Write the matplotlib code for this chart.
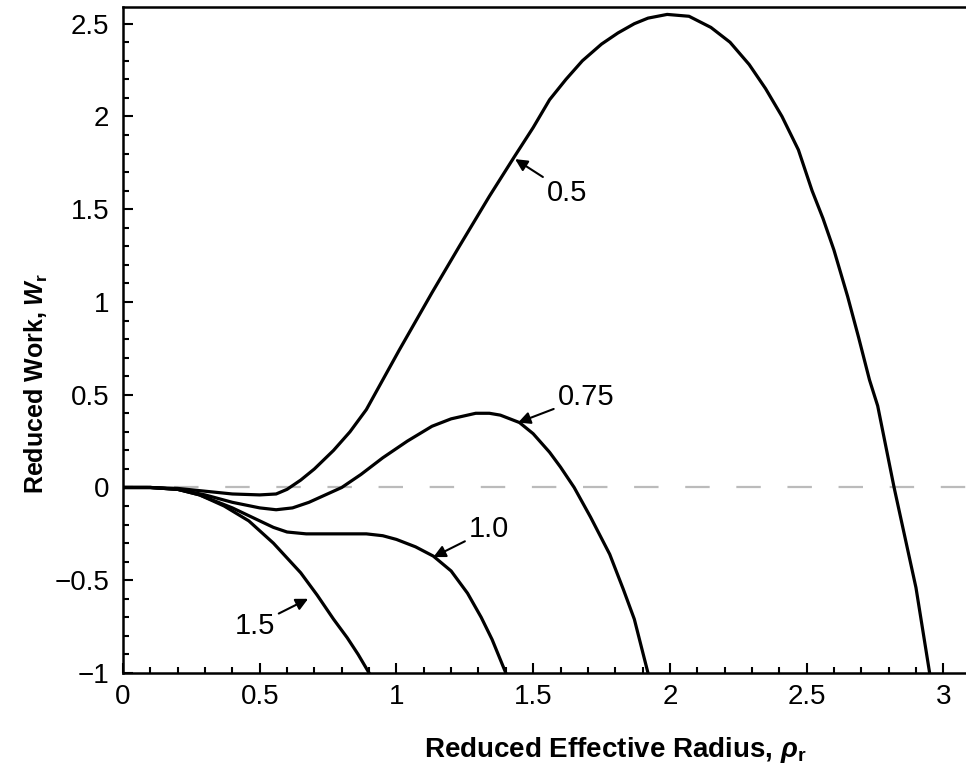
import matplotlib
matplotlib.use("Agg")
import matplotlib.pyplot as plt
from matplotlib.ticker import MultipleLocator

plt.rcParams['font.family'] = ['Liberation Sans', 'DejaVu Sans']
plt.rcParams['mathtext.fontset'] = 'custom'
plt.rcParams['mathtext.rm'] = 'Liberation Sans:bold'
plt.rcParams['mathtext.bf'] = 'Liberation Sans:bold'
plt.rcParams['mathtext.it'] = 'Liberation Sans:italic:bold'

# curves, one per parameter value
x_05 = [0, 0.1, 0.2, 0.3, 0.4, 0.5, 0.56, 0.6, 0.65, 0.7, 0.77, 0.83, 0.89, 0.95, 1.01,
        1.13, 1.23, 1.34, 1.43, 1.50, 1.56, 1.62, 1.68, 1.75, 1.81, 1.87, 1.92, 1.99,
        2.07, 2.15, 2.22, 2.29, 2.35, 2.41, 2.47, 2.52, 2.56, 2.60, 2.65, 2.69, 2.73,
        2.76, 2.82, 2.86, 2.90, 2.95]
y_05 = [0, 0, -0.005, -0.02, -0.035, -0.04, -0.035, -0.01, 0.04, 0.1, 0.2, 0.3, 0.42,
        0.58, 0.74, 1.05, 1.30, 1.57, 1.78, 1.94, 2.09, 2.20, 2.30, 2.39, 2.45, 2.50,
        2.53, 2.55, 2.54, 2.48, 2.40, 2.28, 2.15, 2.0, 1.82, 1.60, 1.45, 1.28, 1.03,
        0.81, 0.58, 0.44, 0.0, -0.27, -0.54, -1.0]

x_075 = [0, 0.1, 0.2, 0.3, 0.4, 0.5, 0.56, 0.62, 0.68, 0.74, 0.8, 0.87, 0.95, 1.04,
         1.13, 1.2, 1.29, 1.34, 1.38, 1.45, 1.5, 1.56, 1.6, 1.65, 1.71, 1.78, 1.83,
         1.87, 1.92]
y_075 = [0, 0, -0.01, -0.04, -0.08, -0.11, -0.12, -0.11, -0.08, -0.04, 0, 0.07, 0.16,
         0.25, 0.33, 0.37, 0.40, 0.40, 0.39, 0.35, 0.29, 0.19, 0.11, 0.0, -0.16, -0.36,
         -0.55, -0.71, -1.0]

x_10 = [0, 0.1, 0.2, 0.28, 0.4, 0.5, 0.55, 0.6, 0.67, 0.8, 0.89, 0.95, 1.0, 1.07,
        1.135, 1.2, 1.26, 1.31, 1.35, 1.40]
y_10 = [0, 0, -0.01, -0.04, -0.11, -0.18, -0.215, -0.24, -0.25, -0.25, -0.25, -0.26,
        -0.28, -0.32, -0.37, -0.45, -0.57, -0.70, -0.82, -1.0]

x_15 = [0, 0.1, 0.2, 0.28, 0.37, 0.46, 0.55, 0.65, 0.71, 0.77, 0.82, 0.86, 0.90]
y_15 = [0, 0, -0.01, -0.04, -0.10, -0.18, -0.30, -0.46, -0.58, -0.71, -0.81, -0.90, -1.0]

xticks = [0, 0.5, 1, 1.5, 2, 2.5, 3]
xtick_labels = ['0', '0.5', '1', '1.5', '2', '2.5', '3']
yticks = [-1, -0.5, 0, 0.5, 1, 1.5, 2, 2.5]
ytick_labels = ['\u22121', '\u22120.5', '0', '0.5', '1', '1.5', '2', '2.5']

# label text, arrow head (on curve), text position
labels = ['0.5', '0.75', '1.0', '1.5']
heads = [(1.434, 1.77), (1.445, 0.35), (1.135, -0.375), (0.677, -0.60)]
tails = [(1.55, 1.59), (1.59, 0.49), (1.265, -0.225), (0.555, -0.745)]

fig = plt.figure(figsize=(9.66, 7.73), dpi=100)
# the right edge of the original axes is cut off by the image border
ax = fig.add_axes([123/966, 100/773, (998-123)/966, 666/773])

ax.plot([0, 3.2], [0, 0], color='#bbbbbb', lw=1.6, linestyle=(0, (11, 12)), zorder=1)
for xs, ys in [(x_05, y_05), (x_075, y_075), (x_10, y_10), (x_15, y_15)]:
    ax.plot(xs, ys, color='black', lw=2.3, zorder=3, solid_joinstyle='round')

for lab, h, t in zip(labels, heads, tails):
    ha = 'right' if lab == '1.5' else 'left'
    ax.annotate(lab, xy=h, xytext=t, ha=ha, va='center', fontsize=21,
                arrowprops=dict(arrowstyle='-|>', color='black', lw=1.5,
                                mutation_scale=18, shrinkA=1, shrinkB=0))

ax.set_xlim(0, 3.2)
ax.set_ylim(-1, 2.59)
ax.set_xticks(xticks)
ax.set_xticklabels(xtick_labels)
ax.set_yticks(yticks)
ax.set_yticklabels(ytick_labels)
ax.xaxis.set_minor_locator(MultipleLocator(0.1))
ax.yaxis.set_minor_locator(MultipleLocator(0.1))
ax.tick_params(which='both', direction='in', top=False, right=False, width=1.5,
               labelsize=20)
ax.tick_params(which='major', length=7)
ax.tick_params(which='minor', length=4)
ax.tick_params(axis='x', pad=8)
ax.tick_params(axis='y', pad=10)
for s in ax.spines.values():
    s.set_linewidth(1.8)

ax.set_xlabel(r'Reduced Effective Radius, $\rho_{\mathrm{r}}$', fontsize=20,
              fontweight='bold')
ax.xaxis.set_label_coords(0.562, -0.093)
ax.set_ylabel(r'Reduced Work, $W_{\mathrm{r}}$', fontsize=18, fontweight='bold')
ax.yaxis.set_label_coords(-0.083, 0.435)

fig.savefig('out.png', dpi=100)
